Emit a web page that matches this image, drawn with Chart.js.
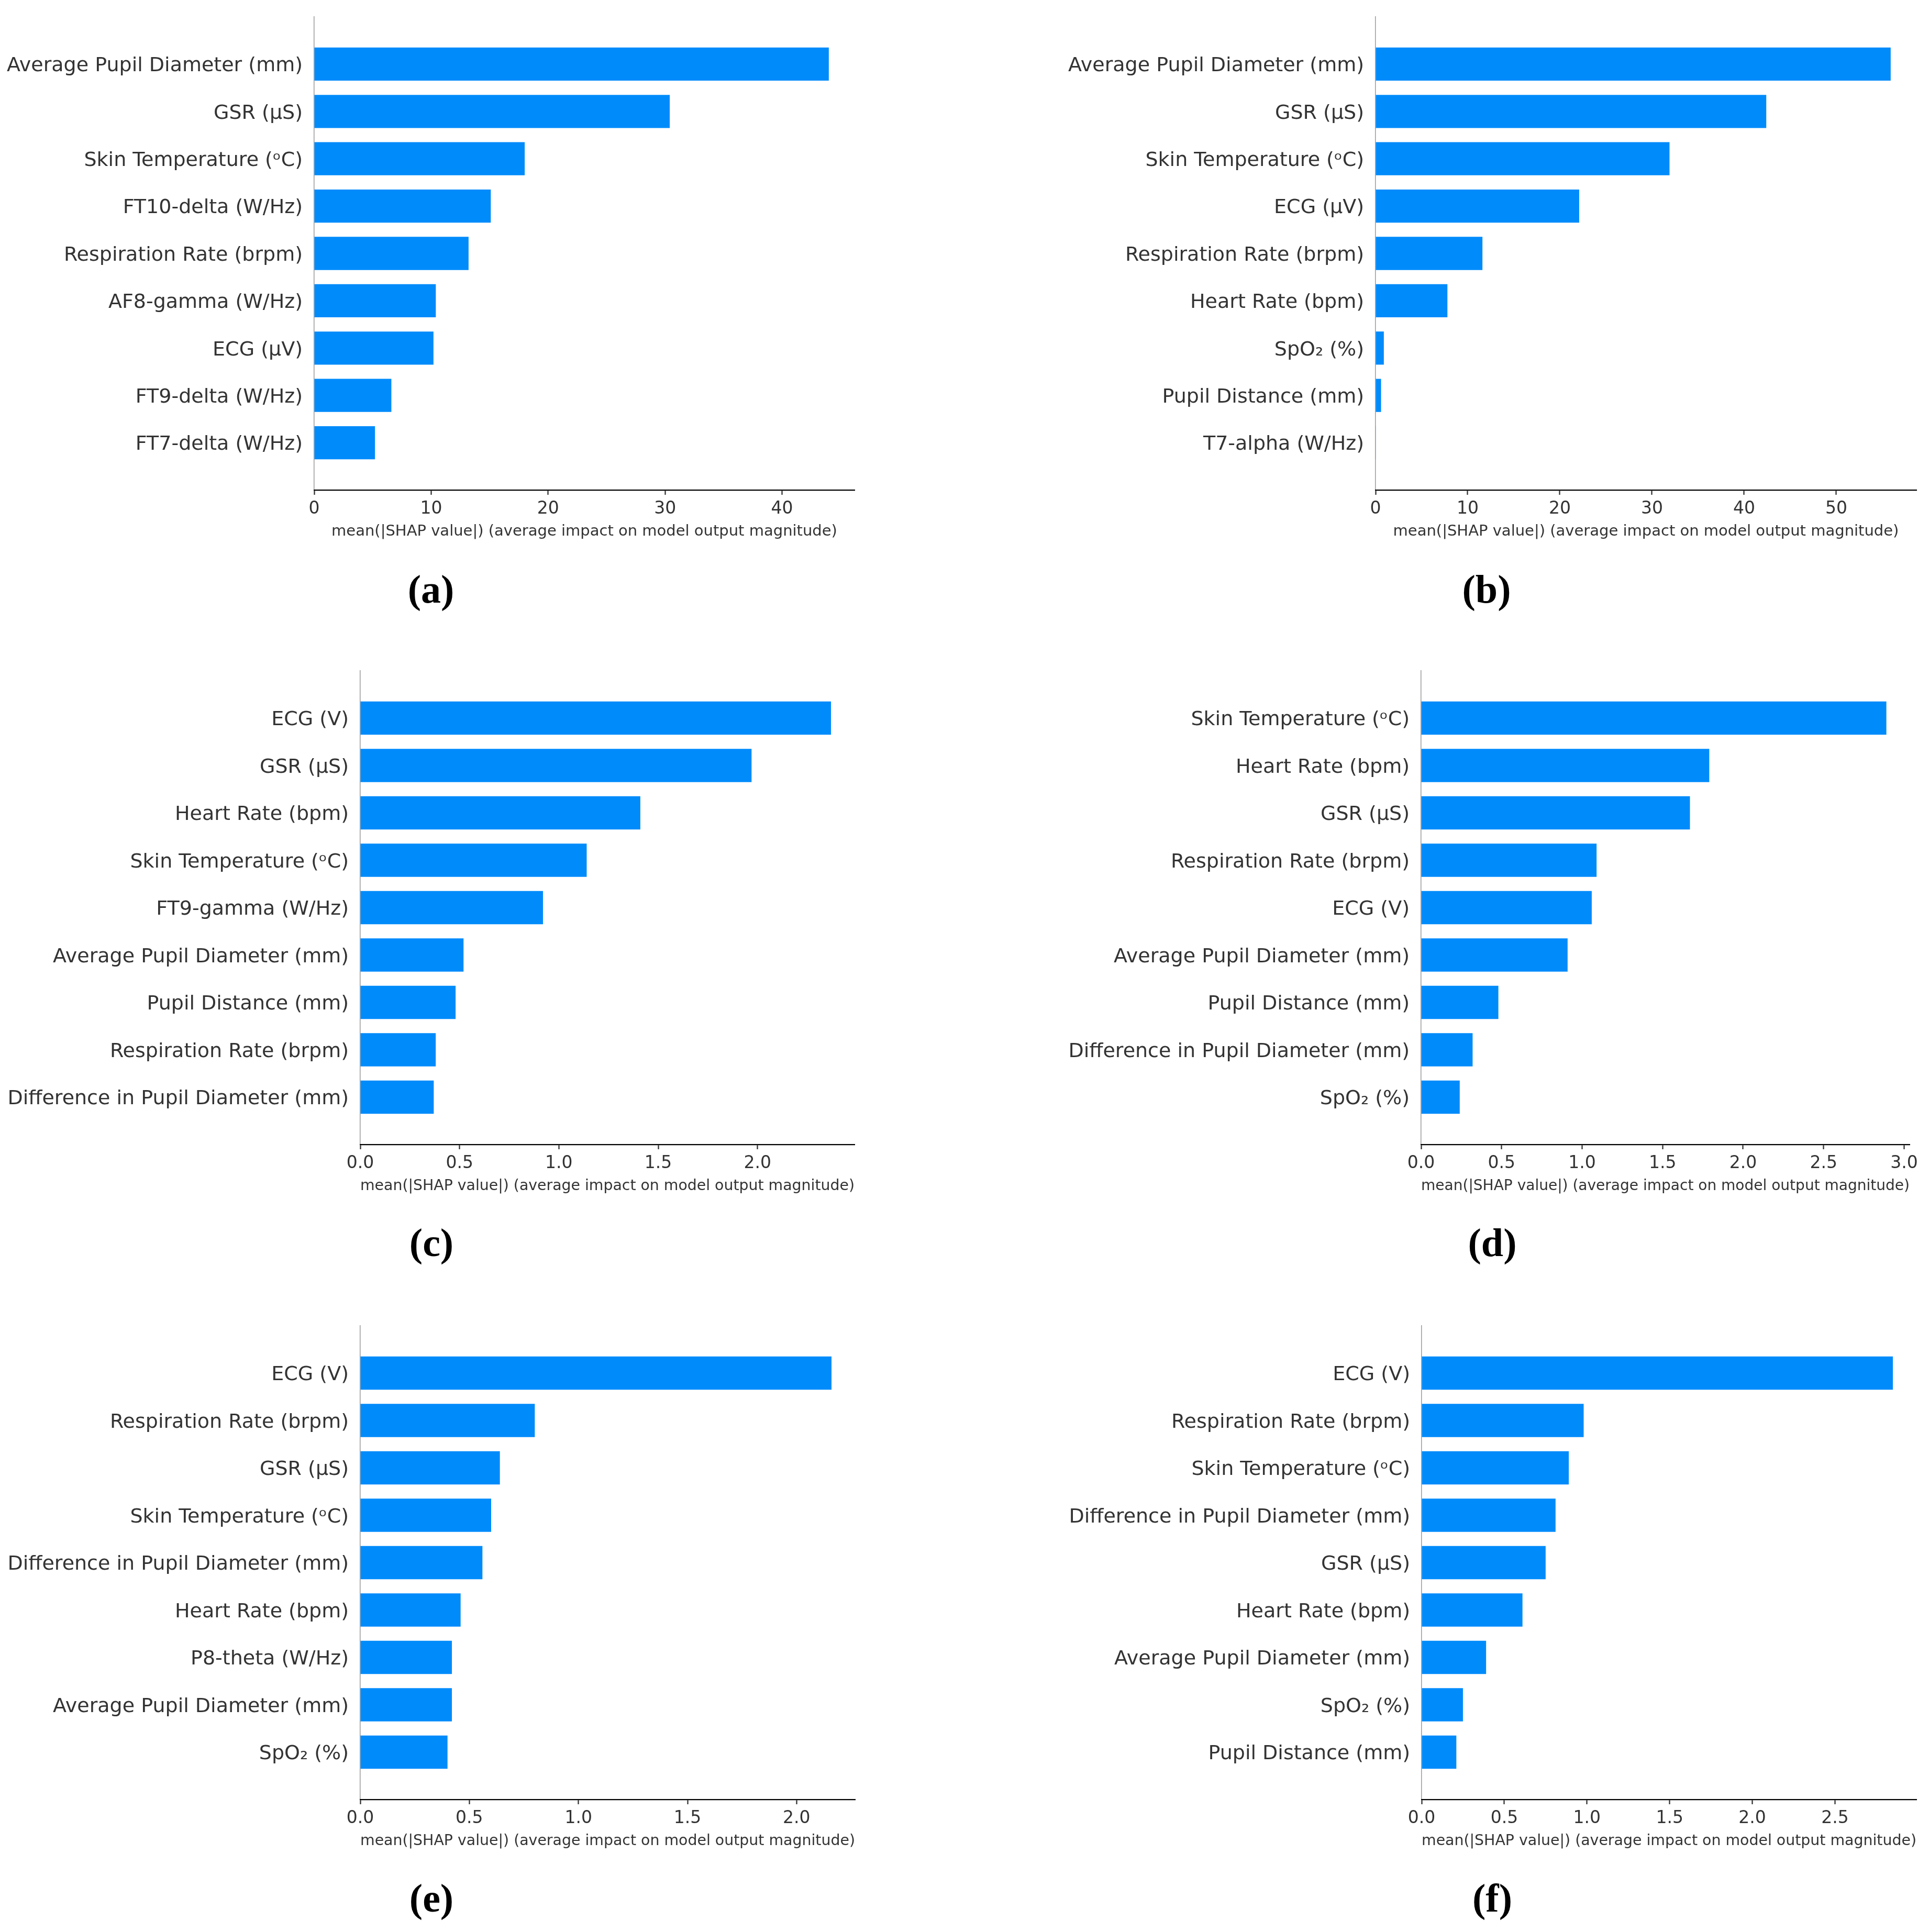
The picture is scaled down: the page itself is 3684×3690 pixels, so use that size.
<!DOCTYPE html>
<html>
<head>
<meta charset="utf-8">
<title>SHAP feature importance</title>
<script src="https://cdn.jsdelivr.net/npm/chart.js@4.4.1/dist/chart.umd.min.js"></script>
<style>
  html, body { margin: 0; padding: 0; background: #fff; }
  body { width: 3684px; height: 3690px; position: relative; overflow: hidden; }
  .panel { position: absolute; }
  .cap {
    position: absolute;
    transform: translate(-50%, -50%);
    font-family: "Liberation Serif", "DejaVu Serif", serif;
    font-weight: bold;
    font-size: 76px;
    line-height: 1;
    color: #000;
  }
</style>
</head>
<body>
<script>
// feature names (top to bottom) and mean |SHAP| values for each panel
const namesA = ['Average Pupil Diameter (mm)', 'GSR (µS)', 'Skin Temperature (ᵒC)', 'FT10-delta (W/Hz)',
  'Respiration Rate (brpm)', 'AF8-gamma (W/Hz)', 'ECG (µV)', 'FT9-delta (W/Hz)', 'FT7-delta (W/Hz)'];
const valuesA = [44.0, 30.4, 18.0, 15.1, 13.2, 10.4, 10.2, 6.6, 5.2];
const ticksA = [0, 10, 20, 30, 40];

const namesB = ['Average Pupil Diameter (mm)', 'GSR (µS)', 'Skin Temperature (ᵒC)', 'ECG (µV)',
  'Respiration Rate (brpm)', 'Heart Rate (bpm)', 'SpO₂ (%)', 'Pupil Distance (mm)', 'T7-alpha (W/Hz)'];
const valuesB = [55.9, 42.4, 31.9, 22.1, 11.6, 7.8, 0.9, 0.6, 0.02];
const ticksB = [0, 10, 20, 30, 40, 50];

const namesC = ['ECG (V)', 'GSR (µS)', 'Heart Rate (bpm)', 'Skin Temperature (ᵒC)', 'FT9-gamma (W/Hz)',
  'Average Pupil Diameter (mm)', 'Pupil Distance (mm)', 'Respiration Rate (brpm)', 'Difference in Pupil Diameter (mm)'];
const valuesC = [2.37, 1.97, 1.41, 1.14, 0.92, 0.52, 0.48, 0.38, 0.37];
const ticksC = [0, 0.5, 1, 1.5, 2];

const namesD = ['Skin Temperature (ᵒC)', 'Heart Rate (bpm)', 'GSR (µS)', 'Respiration Rate (brpm)', 'ECG (V)',
  'Average Pupil Diameter (mm)', 'Pupil Distance (mm)', 'Difference in Pupil Diameter (mm)', 'SpO₂ (%)'];
const valuesD = [2.89, 1.79, 1.67, 1.09, 1.06, 0.91, 0.48, 0.32, 0.24];
const ticksD = [0, 0.5, 1, 1.5, 2, 2.5, 3];

const namesE = ['ECG (V)', 'Respiration Rate (brpm)', 'GSR (µS)', 'Skin Temperature (ᵒC)',
  'Difference in Pupil Diameter (mm)', 'Heart Rate (bpm)', 'P8-theta (W/Hz)', 'Average Pupil Diameter (mm)', 'SpO₂ (%)'];
const valuesE = [2.16, 0.80, 0.64, 0.60, 0.56, 0.46, 0.42, 0.42, 0.40];
const ticksE = [0, 0.5, 1, 1.5, 2];

const namesF = ['ECG (V)', 'Respiration Rate (brpm)', 'Skin Temperature (ᵒC)', 'Difference in Pupil Diameter (mm)',
  'GSR (µS)', 'Heart Rate (bpm)', 'Average Pupil Diameter (mm)', 'SpO₂ (%)', 'Pupil Distance (mm)'];
const valuesF = [2.85, 0.98, 0.89, 0.81, 0.75, 0.61, 0.39, 0.25, 0.21];
const ticksF = [0, 0.5, 1, 1.5, 2, 2.5];

const xTitle = 'mean(|SHAP value|) (average impact on model output magnitude)';

Chart.defaults.font.family = "'DejaVu Sans', sans-serif";
Chart.defaults.color = '#333333';

const TOP_PAD = 32;   // canvas space above the plot area
const XAXIS_H = 97;   // height of the x axis block (ticks + title)

// draw one shap-style bar panel; box holds the plot area edges in page pixels
function makePanel(box, names, values, ticks, decimals, caption) {
  const div = document.createElement('div');
  div.className = 'panel';
  div.style.left = box.colLeft + 'px';
  div.style.top = (box.top - TOP_PAD) + 'px';
  div.style.width = box.colWidth + 'px';
  div.style.height = (TOP_PAD + box.bottom - box.top + XAXIS_H) + 'px';
  const canvas = document.createElement('canvas');
  div.appendChild(canvas);
  document.body.appendChild(div);

  new Chart(canvas, {
    type: 'bar',
    data: {
      // empty categories at both ends leave one bar slot of space above and below
      labels: [''].concat(names, ['']),
      datasets: [{
        data: [null].concat(values, [null]),
        backgroundColor: '#008bfb',
        borderWidth: 0,
        barPercentage: 0.7,
        categoryPercentage: 1
      }]
    },
    options: {
      indexAxis: 'y',
      responsive: true,
      maintainAspectRatio: false,
      devicePixelRatio: 1,
      animation: false,
      layout: { padding: { top: TOP_PAD, right: box.colLeft + box.colWidth - box.right, bottom: 0, left: 0 } },
      plugins: { legend: { display: false }, tooltip: { enabled: false } },
      scales: {
        y: {
          type: 'category',
          offset: false,
          grid: { display: false, drawTicks: false },
          border: { display: true, color: '#999999', width: 1.5 },
          ticks: {
            autoSkip: false, padding: 22, labelOffset: 4, color: '#333333',
            // the blank end slots get a tiny font so they do not push the plot area down
            font: ctx => ({ size: ctx.tick && ctx.tick.label === '' ? 1 : 38 })
          },
          afterFit: s => { s.width = box.axisX - box.colLeft; }
        },
        x: {
          type: 'linear',
          min: 0,
          max: Math.max(...values) * 1.05,
          grid: { display: true, drawOnChartArea: false, drawTicks: true, tickLength: 9, tickColor: '#333333', tickWidth: 2.3 },
          border: { display: true, color: '#000000', width: 2.3 },
          ticks: {
            autoSkip: false, maxRotation: 0, padding: 8, color: '#333333', font: { size: 33 },
            callback: v => Number(v).toFixed(decimals)
          },
          afterBuildTicks: s => { s.ticks = ticks.map(v => ({ value: v })); },
          title: { display: true, text: xTitle, color: '#333333', font: { size: 29 }, padding: { top: 0, bottom: 0 } },
          afterFit: s => { s.height = XAXIS_H; }
        }
      }
    }
  });

  const cap = document.createElement('div');
  cap.className = 'cap';
  cap.textContent = caption.text;
  cap.style.left = caption.x + 'px';
  cap.style.top = caption.y + 'px';
  document.body.appendChild(cap);
}

const LEFT = { colLeft: 0, colWidth: 1842 };
const RIGHT = { colLeft: 1842, colWidth: 1842 };

makePanel({ ...LEFT, axisX: 600, right: 1632, top: 32, bottom: 936 }, namesA, valuesA, ticksA, 0, { text: '(a)', x: 823, y: 1125 });
makePanel({ ...RIGHT, axisX: 2627, right: 3660, top: 32, bottom: 936 }, namesB, valuesB, ticksB, 0, { text: '(b)', x: 2839, y: 1125 });
makePanel({ ...LEFT, axisX: 688, right: 1632, top: 1281, bottom: 2186 }, namesC, valuesC, ticksC, 1, { text: '(c)', x: 824, y: 2373 });
makePanel({ ...RIGHT, axisX: 2714, right: 3647, top: 1281, bottom: 2186 }, namesD, valuesD, ticksD, 1, { text: '(d)', x: 2850, y: 2373 });
makePanel({ ...LEFT, axisX: 688, right: 1633, top: 2532, bottom: 3437 }, namesE, valuesE, ticksE, 1, { text: '(e)', x: 824, y: 3625 });
makePanel({ ...RIGHT, axisX: 2715, right: 3660, top: 2532, bottom: 3437 }, namesF, valuesF, ticksF, 1, { text: '(f)', x: 2850, y: 3625 });
</script>
</body>
</html>
